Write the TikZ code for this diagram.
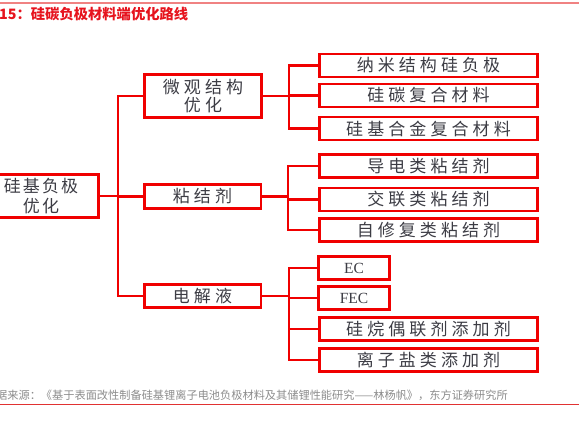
\documentclass[tikz,border=0pt]{standalone}
\usepackage{fontspec}
\setmainfont{Liberation Serif}
\newfontfamily\cjkbox[LetterSpace=24]{Noto Sans CJK SC}
\newfontfamily\cjkroot[LetterSpace=12]{Noto Sans CJK SC}
\newfontfamily\cjkplain{Noto Sans CJK SC}
\usetikzlibrary{calc}
\definecolor{lred}{RGB}{240,0,0}
\definecolor{txt}{RGB}{60,60,68}
\definecolor{srcgray}{RGB}{140,140,140}
\definecolor{topline}{RGB}{240,130,130}
\definecolor{botline}{RGB}{225,50,50}
\definecolor{titlered}{RGB}{230,20,30}
\begin{document}
\begin{tikzpicture}[x=1pt,y=-1pt,
  box/.style={draw=lred, line width=2.6pt, inner sep=0pt, text=txt, align=center,
    font=\cjkbox\fontsize{17}{18}\selectfont},
  leaf/.style={box, minimum width=218.4pt, minimum height=23pt},
  mid/.style={box, minimum width=116.6pt},
  conn/.style={draw=lred, line width=2.2pt, line cap=rect}]
\useasboundingbox (0,0) rectangle (579,421);
% header and footer rules
\draw[topline, line width=1.6pt] (0,2.8) -- (579,2.8);
\draw[botline, line width=1pt] (0,404) -- (579,404);
\node[anchor=west, inner sep=0pt, text=titlered, font=\cjkplain\bfseries\fontsize{14.3}{16}\selectfont] (title) at (-1,14) {15：硅碳负极材料端优化路线};
\node[anchor=west, inner sep=0pt, text=srcgray, font=\cjkplain\fontsize{11.2}{12}\selectfont] (src) at (-4,395.5) {据来源：《基于表面改性制备硅基锂离子电池负极材料及其储锂性能研究——林杨帆》，东方证券研究所};
% root
\node[box, font=\cjkroot\fontsize{17}{19.5}\selectfont, minimum width=115.4pt, minimum height=43.4pt] (root) at (41,196) {硅基负极\\优化};
% level 2
\node[mid, minimum height=43.4pt] (micro) at (203,96) {微观结构\\优化};
\node[mid, minimum height=24.4pt] (binder) at (202.5,196.5) {粘结剂};
\node[mid, minimum height=23.4pt] (elec) at (202.5,296) {电解液};
% level 3
\node[leaf] (a1) at (428.5,65.5) {纳米结构硅负极};
\node[leaf] (a2) at (428.5,95.5) {硅碳复合材料};
\node[leaf] (a3) at (428.5,128.5) {硅基合金复合材料};
\node[leaf] (b1) at (428.5,166) {导电类粘结剂};
\node[leaf] (b2) at (428.5,199.5) {交联类粘结剂};
\node[leaf] (b3) at (428.5,230) {自修复类粘结剂};
\node[box, font=\fontsize{15.5}{18}\selectfont, minimum width=71.4pt, minimum height=23pt] (c1) at (354,268) {EC};
\node[box, font=\fontsize{15.5}{18}\selectfont, minimum width=71.4pt, minimum height=23pt] (c2) at (354,298) {FEC};
\node[leaf] (c3) at (428.5,329) {硅烷偶联剂添加剂};
\node[leaf] (c4) at (428.5,360) {离子盐类添加剂};
% trunks
\coordinate (T) at (118,0);
\coordinate (S1) at (289,0);
\coordinate (S2) at (288,0);
\coordinate (S3) at (289,0);
\draw[conn] (root.east) -- (root.east -| T);
\draw[conn] (micro.west -| T) -- (elec.west -| T);
\draw[conn] (micro.west -| T) -- (micro.west);
\draw[conn] (binder.west -| T) -- (binder.west);
\draw[conn] (elec.west -| T) -- (elec.west);
% group 1
\draw[conn] (micro.east) -- (micro.east -| S1);
\draw[conn] (a1.west -| S1) -- (a3.west -| S1);
\draw[conn] (a1.west -| S1) -- (a1.west);
\draw[conn] (a2.west -| S1) -- (a2.west);
\draw[conn] (a3.west -| S1) -- (a3.west);
% group 2
\draw[conn] (binder.east) -- (binder.east -| S2);
\draw[conn] (b1.west -| S2) -- (b3.west -| S2);
\draw[conn] (b1.west -| S2) -- (b1.west);
\draw[conn] (b2.west -| S2) -- (b2.west);
\draw[conn] (b3.west -| S2) -- (b3.west);
% group 3
\draw[conn] (elec.east) -- (elec.east -| S3);
\draw[conn] (c1.west -| S3) -- (c4.west -| S3);
\draw[conn] (c1.west -| S3) -- (c1.west);
\draw[conn] (c2.west -| S3) -- (c2.west);
\draw[conn] (c3.west -| S3) -- (c3.west);
\draw[conn] (c4.west -| S3) -- (c4.west);
\end{tikzpicture}
\end{document}
